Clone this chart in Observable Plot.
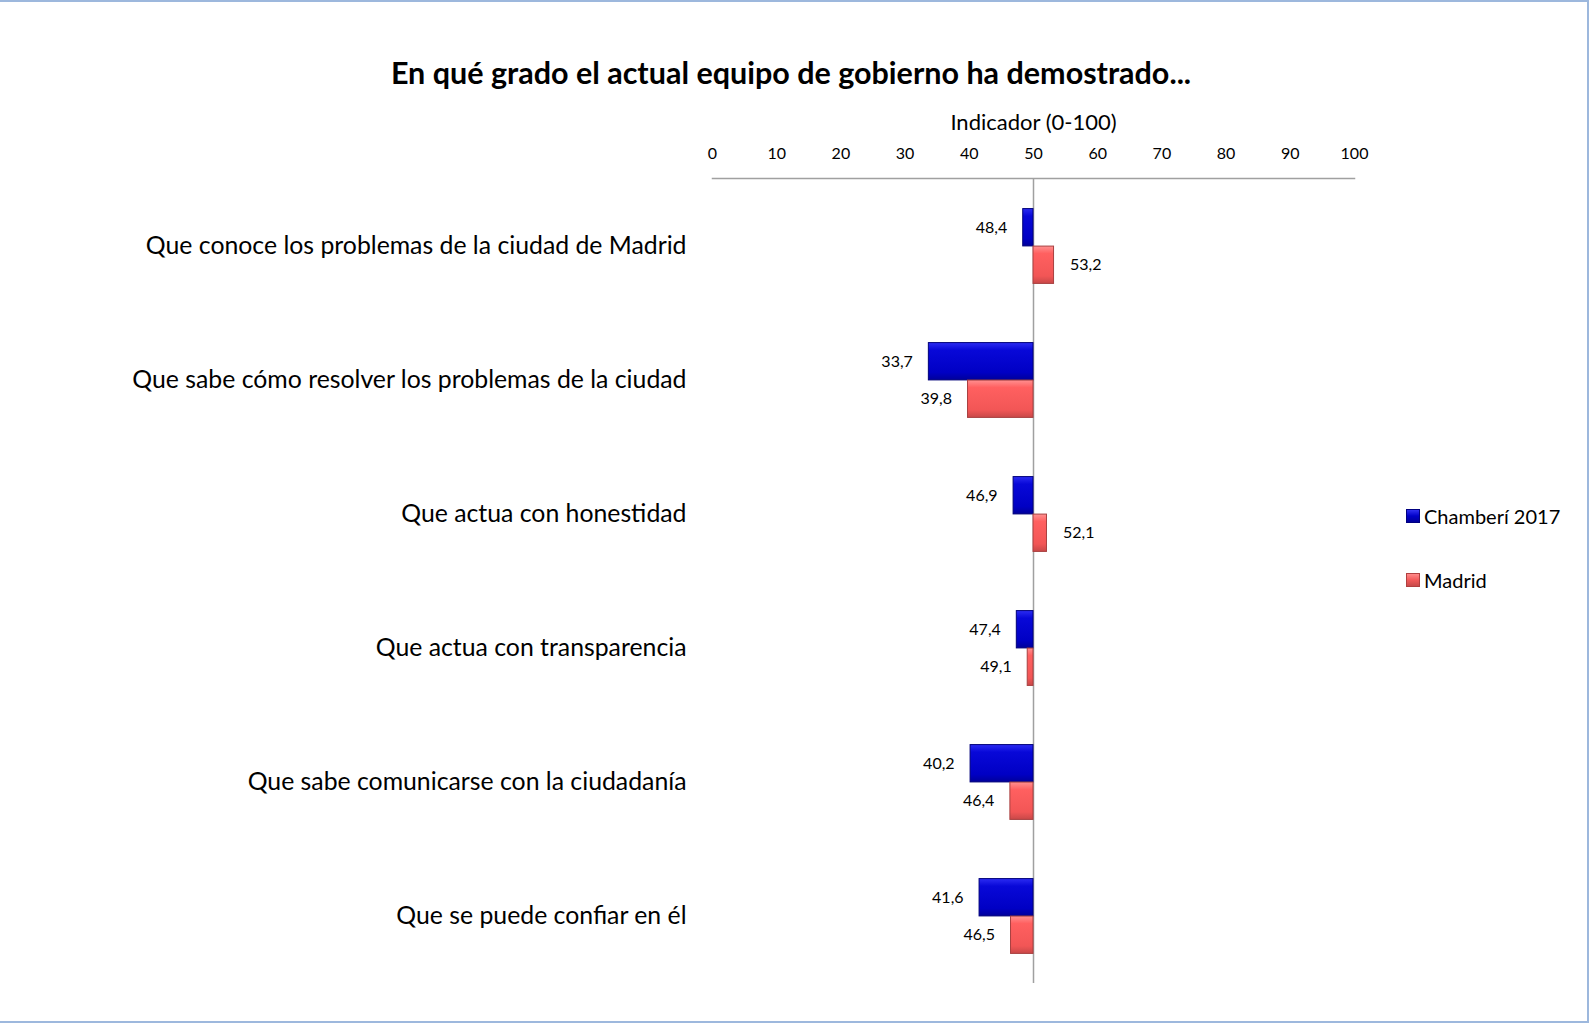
<!DOCTYPE html>
<html><head><meta charset="utf-8">
<script src="https://cdn.jsdelivr.net/npm/d3@7"></script>
<script src="https://cdn.jsdelivr.net/npm/@observablehq/plot@0.6"></script>
<style>
body{margin:0;background:#fff;font-family:Lato,"Open Sans",sans-serif;color:#000;}
#wrap{position:relative;width:1589px;height:1023px;overflow:hidden;background:#fff;}
#border{position:absolute;left:-2px;top:0;width:1587px;height:1019px;border:2px solid #9db8dd;}
#title{position:absolute;top:54px;left:0;width:1582px;text-align:center;font-weight:bold;font-size:30.5px;}
#chart{position:absolute;left:0;top:100px;}
.leg{position:absolute;left:1406px;font-size:20px;display:flex;align-items:center;gap:4px;}
.sw{width:14px;height:14px;display:inline-block;box-sizing:border-box;}
</style></head>
<body>
<div id="wrap">
  <div id="border"></div>
  <div id="title">En qué grado el actual equipo de gobierno ha demostrado...</div>
  <div id="chart"></div>
  <div class="leg" style="top:504px"><span class="sw" style="background:linear-gradient(#3030f0,#0000c8 50%,#00009a);border:1px solid #000080"></span>Chamberí 2017</div>
  <div class="leg" style="top:568px"><span class="sw" style="background:linear-gradient(#ff8a8a,#f25a5a 50%,#c84a4a);border:1px solid #b04040"></span>Madrid</div>
</div>
<script>
const categories = [
  "Que conoce los problemas de la ciudad de Madrid",
  "Que sabe cómo resolver los problemas de la ciudad",
  "Que actua con honestidad",
  "Que actua con transparencia",
  "Que sabe comunicarse con la ciudadanía",
  "Que se puede confiar en él"
];
const seriesNames = ["Chamberí 2017", "Madrid"];
const chamberi = [48.4, 33.7, 46.9, 47.4, 40.2, 41.6];
const madrid = [53.2, 39.8, 52.1, 49.1, 46.4, 46.5];
const xTicks = [0, 10, 20, 30, 40, 50, 60, 70, 80, 90, 100];
const xLabel = "Indicador (0-100)";
const midValue = 50;

const rowsC = categories.map((c, i) => ({cat: c, series: seriesNames[0], value: chamberi[i]}));
const rowsM = categories.map((c, i) => ({cat: c, series: seriesNames[1], value: madrid[i]}));
const fmt = v => v.toFixed(1).replace(".", ",");

const H = 900, mT = 78, mB = 17;
const band = (H - mT - mB) / categories.length;
const barH = 37.5;
const half = band / 2;

const labelMarks = (rows, dy) => [
  Plot.text(rows.filter(d => d.value < midValue), {x: "value", y: "cat", text: d => fmt(d.value), textAnchor: "end", dx: -16, dy, fontSize: 16}),
  Plot.text(rows.filter(d => d.value >= midValue), {x: "value", y: "cat", text: d => fmt(d.value), textAnchor: "start", dx: 16, dy, fontSize: 16})
];

const chart = Plot.plot({
  width: 1589, height: H,
  marginLeft: 712, marginRight: 235, marginTop: mT, marginBottom: mB,
  style: {fontFamily: "Lato, 'Open Sans', sans-serif", fontSize: "16px", color: "#000", background: "transparent"},
  x: {domain: [0, 100]},
  y: {domain: categories, padding: 0},
  marks: [
    Plot.axisX({anchor: "top", ticks: xTicks, tickSize: 0, tickPadding: 20, fontSize: 16, label: null}),
    Plot.text([xLabel], {x: () => midValue, frameAnchor: "top", dy: -64, text: d => d, fontSize: 22}),
    Plot.axisY({anchor: "left", tickSize: 0, tickPadding: 26, fontSize: 24.8, label: null}),
    Plot.frame({anchor: "top", stroke: "#a0a0a0", strokeWidth: 1.5}),
    Plot.ruleX([midValue], {stroke: "#a0a0a0", strokeWidth: 1.5}),
    Plot.barX(rowsC, {x1: () => midValue, x2: "value", y: "cat",
      insetTop: half - barH, insetBottom: half,
      fill: "url(#gBlue)", stroke: "#00007a", strokeWidth: 1}),
    Plot.barX(rowsM, {x1: () => midValue, x2: "value", y: "cat",
      insetTop: half, insetBottom: half - barH,
      fill: "url(#gRed)", stroke: "#a84040", strokeWidth: 1}),
    ...labelMarks(rowsC, -barH / 2),
    ...labelMarks(rowsM, barH / 2)
  ]
});

const ns = "http://www.w3.org/2000/svg";
const defs = document.createElementNS(ns, "defs");
defs.innerHTML = `
<linearGradient id="gBlue" x1="0" y1="0" x2="0" y2="1">
  <stop offset="0" stop-color="#2c2cf2"/><stop offset="0.2" stop-color="#0808d8"/>
  <stop offset="0.8" stop-color="#0000c4"/><stop offset="1" stop-color="#00009a"/>
</linearGradient>
<linearGradient id="gRed" x1="0" y1="0" x2="0" y2="1">
  <stop offset="0" stop-color="#ff9090"/><stop offset="0.2" stop-color="#ff6060"/>
  <stop offset="0.8" stop-color="#f25656"/><stop offset="1" stop-color="#c84848"/>
</linearGradient>`;
chart.insertBefore(defs, chart.firstChild);
document.getElementById("chart").appendChild(chart);
</script>
</body></html>
